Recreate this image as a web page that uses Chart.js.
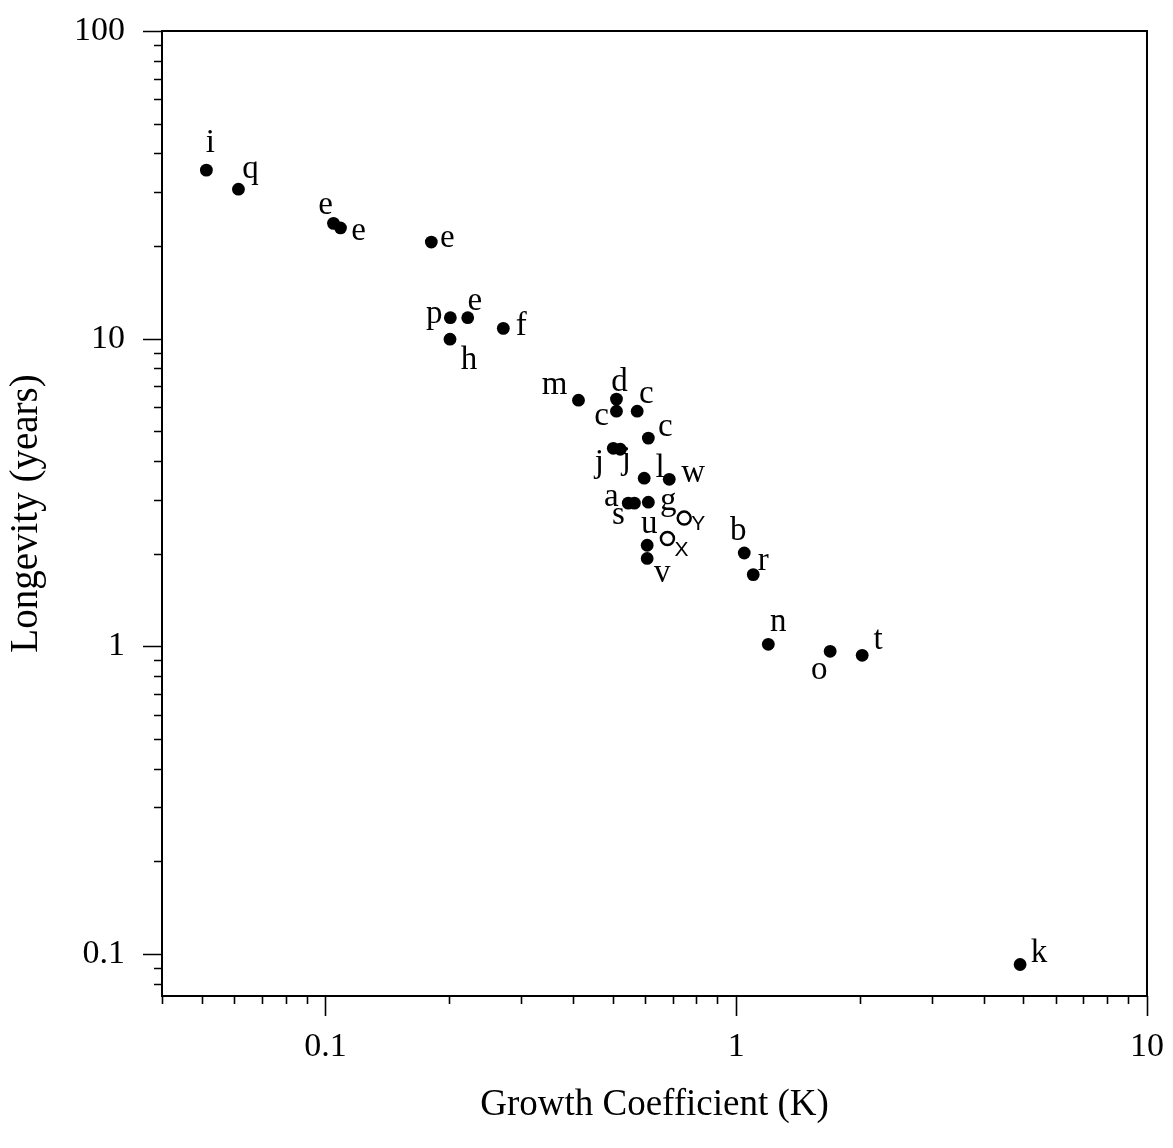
<!DOCTYPE html>
<html>
<head>
<meta charset="utf-8">
<script src="https://cdn.jsdelivr.net/npm/chart.js@4/dist/chart.umd.min.js"></script>
<style>
  html, body { margin: 0; padding: 0; background: #fff; }
  canvas { display: block; }
</style>
</head>
<body>
<canvas id="kChart" width="1173" height="1148"></canvas>
<script>
// species codes, growth coefficient K and longevity (years)
const speciesCodes = ['i', 'q', 'e', 'e', 'e', 'p', 'e', 'h', 'f', 'm',
                      'd', 'c', 'c', 'c', 'j', 'j', 'l', 'w', 'a', 's',
                      'g', 'u', 'v', 'b', 'r', 'n', 'o', 't', 'k'];
const growthK = [0.0513, 0.0614, 0.1046, 0.1088, 0.181, 0.2014, 0.222, 0.201, 0.271, 0.413,
                 0.511, 0.511, 0.574, 0.611, 0.502, 0.522, 0.597, 0.687, 0.546, 0.565,
                 0.611, 0.607, 0.607, 1.046, 1.10, 1.197, 1.693, 2.026, 4.91];
const longevity = [35.3, 30.6, 23.7, 22.9, 20.6, 11.7, 11.7, 9.96, 10.8, 6.31,
                   6.36, 5.81, 5.81, 4.75, 4.40, 4.37, 3.52, 3.49, 2.92, 2.92,
                   2.94, 2.13, 1.93, 2.01, 1.71, 1.015, 0.963, 0.935, 0.0924];

// the two open-circle entries
const openCodes = ['Y', 'X'];
const openK = [0.747, 0.680];
const openLongevity = [2.61, 2.24];

// axis ranges and tick labels
const xRange = [0.04, 10];
const yRange = [0.073, 100];
const xTickLabels = ['0.1', '1', '10'];
const yTickLabels = ['0.1', '1', '10', '100'];

// where each letter sits relative to its dot (pixels, glyph centre)
const labelOffsets = [[4, -29], [12, -16], [-8, -17], [18, 4], [16, -3], [-16, 1], [7, -16], [19, 18], [18, -6], [-24, -14],
                      [3, -20], [-15, 6], [9, -16], [17, -10], [-14, 16], [6, 12], [16, -13], [24, -5], [-17, -5], [-16, 13],
                      [20, 2], [2, -20], [15, 16], [-6, -25], [10, -13], [10, -21], [-11, 20], [16, -16], [19, -15]];
const openLabelOffsets = [[14, 5], [14, 10]];

const SERIF = "'Liberation Serif', 'DejaVu Serif', serif";
const SANS = "'Liberation Sans', Arial, sans-serif";

function isDecade(v) {
    const l = Math.log10(v);
    return Math.abs(l - Math.round(l)) < 1e-6;
}
function isWholeStep(v) {
    const e = Math.pow(10, Math.floor(Math.log10(v) + 1e-9));
    const s = v / e;
    return Math.abs(s - Math.round(s)) < 1e-6;
}

// box around the plot plus outward tick marks on the left and bottom
const framePlugin = {
    id: 'frame',
    afterDraw(chart) {
        const {ctx, chartArea: a, scales} = chart;
        ctx.save();
        ctx.strokeStyle = '#000';
        ctx.lineWidth = 2;
        ctx.strokeRect(a.left, a.top, a.right - a.left, a.bottom - a.top);
        ctx.lineWidth = 1.6;
        ctx.beginPath();
        scales.x.ticks.forEach(t => {
            if (!isWholeStep(t.value)) return;
            const px = Math.round(scales.x.getPixelForValue(t.value)) + 0.5;
            const len = isDecade(t.value) ? 20 : 8;
            ctx.moveTo(px, a.bottom);
            ctx.lineTo(px, a.bottom + len);
        });
        scales.y.ticks.forEach(t => {
            if (!isWholeStep(t.value)) return;
            const py = Math.round(scales.y.getPixelForValue(t.value)) + 0.5;
            const len = isDecade(t.value) ? 19 : 8;
            ctx.moveTo(a.left, py);
            ctx.lineTo(a.left - len, py);
        });
        ctx.stroke();
        ctx.restore();
    }
};

// letter codes next to every point
const codePlugin = {
    id: 'codes',
    afterDatasetsDraw(chart) {
        const ctx = chart.ctx;
        ctx.save();
        ctx.fillStyle = '#000';
        ctx.textAlign = 'center';
        ctx.textBaseline = 'alphabetic';
        chart.data.datasets.forEach((ds, di) => {
            const meta = chart.getDatasetMeta(di);
            ctx.font = ds.codeFont;
            meta.data.forEach((pt, i) => {
                const ch = ds.codes[i];
                const [dx, dy] = ds.codeOffsets[i];
                const m = ctx.measureText(ch);
                const shift = (m.actualBoundingBoxAscent - m.actualBoundingBoxDescent) / 2;
                ctx.fillText(ch, pt.x + dx, pt.y + dy + shift);
            });
        });
        ctx.restore();
    }
};

const pts = growthK.map((k, i) => ({x: k, y: longevity[i]}));
const openPts = openK.map((k, i) => ({x: k, y: openLongevity[i]}));

new Chart(document.getElementById('kChart'), {
    type: 'scatter',
    data: {
        datasets: [
            {
                data: pts,
                codes: speciesCodes,
                codeOffsets: labelOffsets,
                codeFont: '33px ' + SERIF,
                backgroundColor: '#000',
                borderWidth: 0,
                pointRadius: 6.4
            },
            {
                data: openPts,
                codes: openCodes,
                codeOffsets: openLabelOffsets,
                codeFont: '21px ' + SANS,
                backgroundColor: 'transparent',
                borderColor: '#000',
                borderWidth: 2.5,
                pointRadius: 6.5
            }
        ]
    },
    options: {
        responsive: false,
        animation: false,
        devicePixelRatio: 1,
        layout: { padding: { top: 31, right: 26, left: 0, bottom: 0 } },
        plugins: { legend: { display: false }, tooltip: { enabled: false } },
        scales: {
            x: {
                type: 'logarithmic',
                min: xRange[0],
                max: xRange[1],
                afterFit: s => { s.height = 152; },
                grid: { display: false, drawTicks: true, tickLength: 31 },
                border: { display: false },
                ticks: {
                    autoSkip: false,
                    maxRotation: 0,
                    padding: 0,
                    color: '#000',
                    font: { family: SERIF, size: 34 },
                    callback: v => (isDecade(v) && xTickLabels.includes(String(v))) ? String(v) : ''
                },
                title: {
                    display: true,
                    text: 'Growth Coefficient (K)',
                    color: '#000',
                    font: { family: SERIF, size: 37 },
                    padding: { top: 0, bottom: 21 }
                }
            },
            y: {
                type: 'logarithmic',
                min: yRange[0],
                max: yRange[1],
                afterFit: s => { s.width = 162; },
                grid: { display: false, drawTicks: true, tickLength: 37 },
                border: { display: false },
                ticks: {
                    autoSkip: false,
                    padding: 0,
                    color: '#000',
                    font: { family: SERIF, size: 34 },
                    callback: v => (isDecade(v) && yTickLabels.includes(String(v))) ? String(v) : ''
                },
                title: {
                    display: true,
                    text: 'Longevity (years)',
                    color: '#000',
                    font: { family: SERIF, size: 39 },
                    padding: { top: 3, bottom: 0 }
                }
            }
        }
    },
    plugins: [framePlugin, codePlugin]
});
</script>
</body>
</html>
